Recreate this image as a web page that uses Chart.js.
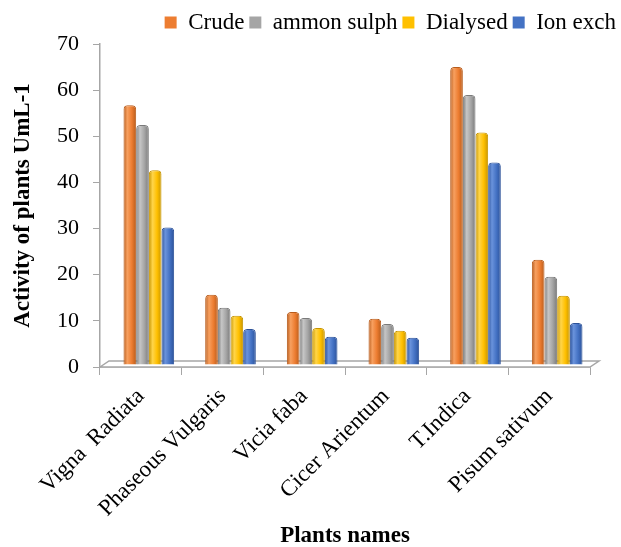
<!DOCTYPE html>
<html>
<head>
<meta charset="utf-8">
<script src="https://cdn.jsdelivr.net/npm/chart.js@4.4.0/dist/chart.umd.min.js"></script>
<style>
  html, body { margin: 0; padding: 0; background: #fff; }
  #wrap { width: 621px; height: 547px; }
</style>
</head>
<body>
<div id="wrap"><canvas id="myChart" width="621" height="547"></canvas></div>
<script>
// Data

const plants = ["Vigna  Radiata", "Phaseous Vulgaris", "Vicia faba", "Cicer Arientum", "T.Indica", "Pisum sativum"];
const crude = [56.3, 15.2, 11.5, 10, 64.6, 22.8];
const ammonSulph = [52, 12.4, 10.2, 8.9, 58.5, 19.1];
const dialysed = [42.2, 10.7, 8, 7.4, 50.4, 15];
const ionExch = [29.8, 7.8, 6.1, 5.9, 43.9, 9.1];
const yTicks = [0, 10, 20, 30, 40, 50, 60, 70];

const serif = "'Liberation Serif', 'Times New Roman', serif";
const CAT_PCT = 0.62;
const legendColors = ["#ed7d31", "#a5a5a5", "#ffc000", "#4472c4"];

// 3D floor under the bars, and a small depth shift for the bars

const depthPlugin = {
  id: "depth",
  beforeDatasetsDraw(chart) {
    const { ctx, chartArea } = chart;
    const l = chartArea.left, r = chartArea.right, b = chartArea.bottom;
    ctx.save();
    ctx.beginPath();
    ctx.moveTo(l, b);
    ctx.lineTo(l + 9, b - 6);
    ctx.lineTo(r + 9, b - 6);
    ctx.lineTo(r, b);
    ctx.closePath();
    ctx.fillStyle = "#ffffff";
    ctx.fill();
    ctx.strokeStyle = "#a6a6a6";
    ctx.lineWidth = 1.5;
    ctx.stroke();
    ctx.restore();
    ctx.save();
    ctx.translate(8, -2);
  },
  afterDatasetsDraw(chart) {
    chart.ctx.restore();
  },
};

// cylinder shading
function shade(base, light, dark) {
  return (c) => {
    const x = c.chart.scales.x;
    if (!x || c.dataIndex === undefined) return base;
    const n = c.chart.data.datasets.length;
    const w = (x.getPixelForValue(1) - x.getPixelForValue(0)) * CAT_PCT / n;
    const cx = x.getPixelForValue(c.dataIndex) + (c.datasetIndex - (n - 1) / 2) * w;
    const g = c.chart.ctx.createLinearGradient(cx - w / 2, 0, cx + w / 2, 0);
    g.addColorStop(0, dark);
    g.addColorStop(0.3, light);
    g.addColorStop(0.65, base);
    g.addColorStop(1, dark);
    return g;
  };
}

function ds(label, data, base, light, dark) {
  return {
    label: label,
    data: data,
    backgroundColor: shade(base, light, dark),
    borderColor: dark,
    borderWidth: 1,
    borderRadius: { topLeft: 4, topRight: 4 },
    borderSkipped: "bottom",
    barPercentage: 1,
    categoryPercentage: CAT_PCT,
  };
}

const ctx = document.getElementById("myChart");

const chart = new Chart(ctx, {
  type: "bar",
  data: {
    labels: plants,
    datasets: [
      ds("Crude", crude, "#ed7d31", "#f7a060", "#b85c1c"),
      ds("ammon sulph", ammonSulph, "#a5a5a5", "#c6c6c6", "#7a7a7a"),
      ds("Dialysed", dialysed, "#ffc000", "#ffd54a", "#c79500"),
      ds("Ion exch", ionExch, "#4472c4", "#6a93dc", "#2c5299"),
    ],
  },
  plugins: [depthPlugin],
  options: {
    responsive: false,
    animation: false,
    layout: { padding: { left: 0, right: 0, top: 6, bottom: 0 } },
    plugins: {
      tooltip: { enabled: false },
      legend: {
        position: "top",
        align: "end",
        labels: {
          boxWidth: 12,
          boxHeight: 12,
          padding: 5,
          color: "#000",
          font: { family: serif, size: 23 },
          generateLabels(ch) {
            return ch.data.datasets.map((d, i) => ({
              text: d.label,
              fillStyle: legendColors[i],
              strokeStyle: "#fff",
              lineWidth: 0,
              datasetIndex: i,
            }));
          },
        },
      },
    },
    scales: {
      x: {
        offset: true,
        afterFit(axis) {
          axis.height = 180;
        },
        grid: { drawOnChartArea: false, color: "#a6a6a6", tickLength: 8, offset: true },
        border: { color: "#a6a6a6", width: 1.5 },
        ticks: {
          maxRotation: 45,
          minRotation: 45,
          color: "#000",
          padding: 8,
          font: { family: serif, size: 23 },
        },
        title: {
          display: true,
          text: "Plants names",
          color: "#000",
          padding: { top: 0, bottom: -1 },
          font: { family: serif, size: 23, weight: "bold", lineHeight: 1 },
        },
      },
      y: {
        min: 0,
        max: 70,
        afterBuildTicks(axis) {
          axis.ticks = yTicks.map((v) => ({ value: v }));
        },
        afterFit(axis) {
          axis.width = 100;
        },
        grid: { drawOnChartArea: false, color: "#a6a6a6", tickLength: 7 },
        border: { color: "#a6a6a6", width: 1.5 },
        ticks: {
          color: "#000",
          padding: 14,
          font: { family: serif, size: 22 },
        },
        title: {
          display: true,
          text: "Activity of plants UmL-1",
          color: "#000",
          padding: { top: 9, bottom: 0 },
          font: { family: serif, size: 23, weight: "bold" },
        },
      },
      yRight: {
        position: "right",
        display: true,
        grid: { display: false },
        border: { display: false },
        ticks: { display: false },
        afterFit(axis) {
          axis.width = 31;
        },
      },
    },
  },
});
</script>
</body>
</html>
